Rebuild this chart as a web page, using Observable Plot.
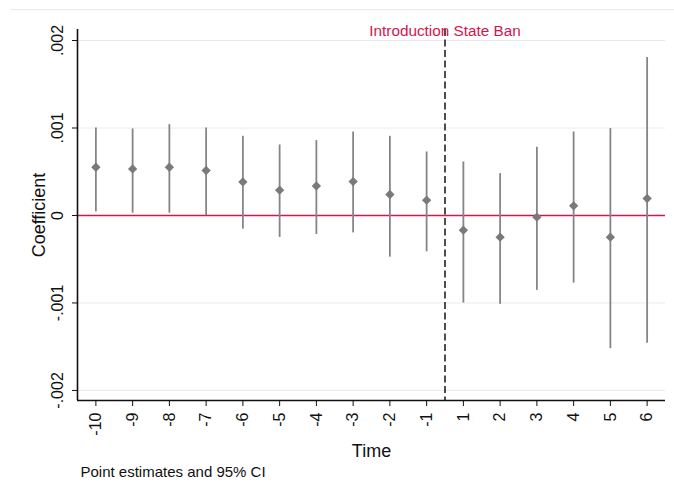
<!DOCTYPE html>
<html>
<head>
<meta charset="utf-8">
<script src="https://cdn.jsdelivr.net/npm/d3@7"></script>
<script src="https://cdn.jsdelivr.net/npm/@observablehq/plot@0.6"></script>
<style>
  html, body { margin: 0; padding: 0; background: #fff; }
  #wrap { position: relative; width: 674px; height: 485px; }
  #topline { position: absolute; left: 10px; right: 0; top: 9px; height: 0; border-top: 1px solid #e6edef; }
  svg { font-family: "Liberation Sans", Arial, sans-serif; }
</style>
</head>
<body>
<div id="wrap"><div id="topline"></div></div>
<script>
// Event time (periods relative to introduction of the state ban)
const times = [-10, -9, -8, -7, -6, -5, -4, -3, -2, -1, 1, 2, 3, 4, 5, 6];
// Point estimates
const coef = [0.000551, 0.000532, 0.000551, 0.000514, 0.000384, 0.000289, 0.000338, 0.000388,
              0.000240, 0.000175, -0.000168, -0.000248, -0.000019, 0.000110, -0.000248, 0.000194];
// 95% CI lower bounds
const ciLow = [0.000041, 0.000026, 0.000026, 0.000000, -0.000156, -0.000251, -0.000217, -0.000199,
               -0.000476, -0.000415, -0.001001, -0.001016, -0.000856, -0.000773, -0.001523, -0.001461];
// 95% CI upper bounds
const ciHigh = [0.001000, 0.000989, 0.001039, 0.001000, 0.000905, 0.000806, 0.000856, 0.000954,
                0.000905, 0.000726, 0.000612, 0.000479, 0.000780, 0.000954, 0.000993, 0.001807];
// Y axis ticks
const yTicks = [-0.002, -0.001, 0, 0.001, 0.002];
const yTickLabels = ["-.002", "-.001", "0", ".001", ".002"];
const eventLabel = "Introduction State Ban";
const xTitle = "Time";
const yTitle = "Coefficient";
const caption = "Point estimates and 95% CI";

const rows = times.map((t, i) => ({i, t, coef: coef[i], lo: ciLow[i], hi: ciHigh[i]}));
const xIdx = times.map((t, i) => i);
const xDomain = [-0.5, times.length - 0.5];
const yDomain = [-0.002115, 0.002126];
const eventPos = times.findIndex(t => t > 0) - 0.5;

const red = "#d3164c";
const gray = "#858585";

const chart = Plot.plot({
  width: 674,
  height: 485,
  marginLeft: 77,
  marginRight: 9,
  marginTop: 29,
  marginBottom: 85,
  style: {fontFamily: "'Liberation Sans', Arial, sans-serif", background: "transparent"},
  x: {type: "linear", domain: xDomain},
  y: {domain: yDomain},
  marks: [
    Plot.ruleY(yTicks, {stroke: "#e4ecef", strokeWidth: 1}),
    Plot.ruleY([0], {stroke: red, strokeWidth: 1.6}),
    Plot.ruleX([eventPos], {stroke: "#222", strokeWidth: 1.6, strokeDasharray: "7,3.5"}),
    Plot.ruleX(rows, {x: "i", y1: "lo", y2: "hi", stroke: gray, strokeWidth: 1.8}),
    Plot.dot(rows, {x: "i", y: "coef", symbol: "diamond2", r: 4.2, fill: "#7a7a7a", stroke: "none"}),
    Plot.ruleX([xDomain[0]], {stroke: "#111", strokeWidth: 1.6}),
    Plot.ruleY([yDomain[0]], {stroke: "#111", strokeWidth: 1.6}),
    Plot.axisY({
      ticks: yTicks, tickFormat: (d, k) => yTickLabels[k], tickRotate: -90,
      tickSize: 5, tickPadding: 10, fontSize: 16, label: null, stroke: "#111", fill: "#111"
    }),
    Plot.axisX({
      ticks: xIdx, tickFormat: d => String(times[d]), tickRotate: -90,
      textAnchor: "end", lineAnchor: "middle",
      tickSize: 6, tickPadding: 6, fontSize: 16, label: null, stroke: "#111", fill: "#111"
    }),
    Plot.text([eventLabel], {x: eventPos, frameAnchor: "top", lineAnchor: "bottom", dy: 6,
      fill: red, fontSize: 15.3}),
    Plot.text([xTitle], {frameAnchor: "bottom", lineAnchor: "bottom", dy: 56, fontSize: 18, fill: "#111"}),
    Plot.text([yTitle], {frameAnchor: "left", textAnchor: "middle", rotate: -90, lineAnchor: "bottom", dx: -33, fontSize: 18, fill: "#111"}),
    Plot.text([caption], {frameAnchor: "bottom-left", textAnchor: "start", lineAnchor: "bottom", dx: 3, dy: 76, fontSize: 15, fill: "#111"})
  ]
});
document.getElementById("wrap").appendChild(chart);
chart.style.position = "absolute";
chart.style.left = "0";
chart.style.top = "0";
</script>
</body>
</html>
